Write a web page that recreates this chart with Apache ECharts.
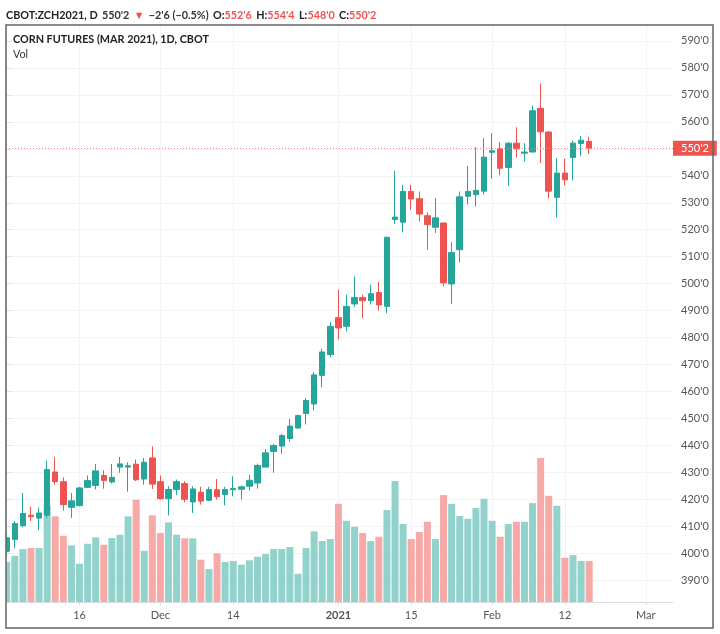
<!DOCTYPE html>
<html>
<head>
    <meta charset="utf-8">
    <title>Corn Futures (Mar 2021)</title>
    <script src="https://cdn.jsdelivr.net/npm/echarts@6/dist/echarts.min.js"></script>
    <style>
        html, body {margin: 0; padding: 0; background: #fff;}
    </style>
</head>
<body>
<div id="main" style="width: 720px;height:634px;"></div>
<script type="text/javascript">

    /* data, one entry per trading day ===================================== */
    var opens = [400.8, 405.2, 410.3, 414.2, 413.1, 414.2, 430.2, 426.6, 417.1, 417.7,
        424.5, 425.2, 428.9, 426.5, 432, 432, 433.1, 427.6, 435.4, 426.6,
        420.3, 423.7, 425.9, 419.1, 422.7, 419.7, 423.6, 421.8, 423.6, 423.8,
        424.9, 426.1, 432, 437.8, 439.8, 442.6, 446.5, 451.9, 455.4, 466,
        473.7, 487.4, 484.2, 492.5, 494.9, 493.7, 496.7, 491.6, 523.8, 522.8,
        534.2, 531.5, 525.2, 520.9, 522.5, 499.9, 512.6, 532.4, 533, 534.3,
        548.7, 550, 543.1, 552.1, 548.4, 548.8, 565, 556.2, 532, 541,
        546.8, 552, 552.75];
    var closes = [405.8, 411.1, 414.8, 413.6, 415, 431.1, 426.6, 418.1, 419.5, 424.3,
        427, 430.6, 427, 428.2, 433.2, 432.5, 427.3, 433.8, 425.7, 420.3,
        423.7, 426.6, 420.1, 423.9, 419.4, 423.7, 421, 423.7, 424.1, 424.7,
        427.1, 432.6, 437.3, 440, 443.7, 447.2, 451.1, 456.7, 466.2, 474.7,
        484.2, 483.6, 491.6, 494.9, 493.7, 496.3, 492.1, 517.2, 524.7, 534.2,
        531.4, 525.8, 521.9, 524.4, 500.3, 511.6, 532.2, 534.2, 534.6, 546.9,
        549.3, 542.8, 552.1, 550, 548.8, 564.1, 556.3, 534.3, 541, 538.5,
        552.1, 553.2, 550.25];
    var lows = [399.2, 402, 409.7, 412, 408.6, 413.2, 425.5, 415.9, 413.2, 417.5,
        424.3, 423.7, 424, 425.9, 429.9, 422.9, 426.8, 425.5, 423.9, 420,
        414.1, 421.7, 419, 415, 418.1, 419.4, 420, 417.8, 421.2, 420,
        423.3, 424, 432, 429.9, 437, 441.4, 446.3, 447.8, 453, 461.6,
        472.7, 479.3, 482.3, 491.4, 487.2, 492.3, 490, 489.1, 522.2, 519,
        527.4, 523.1, 512.6, 518.8, 499, 492.5, 507.9, 529.3, 528.6, 533,
        538.9, 540.1, 536.3, 546.8, 545.3, 548.8, 544.7, 531.6, 524.6, 536.5,
        538.3, 547.4, 548];
    var highs = [407, 412, 422.4, 417.3, 417, 434.4, 435.8, 428.2, 422.4, 424.6,
        428.9, 433.2, 430.8, 433.2, 435.8, 433.8, 434.8, 435.4, 439.7, 428.9,
        424.9, 427.4, 426.8, 424.9, 424.7, 424.7, 427.6, 424.7, 428.6, 425.2,
        429.2, 433.3, 438.7, 440.6, 444.3, 449.9, 451.5, 457.7, 467.2, 475.9,
        485.8, 497.8, 495.9, 502.7, 495.9, 499.6, 500.6, 517.4, 541.8, 536.7,
        536.7, 534.2, 526.5, 531.7, 522.7, 515.4, 534.2, 543.7, 550.6, 554,
        555.8, 552.5, 552.5, 558, 552.1, 566, 574.3, 556.5, 546.5, 546.3,
        553, 554.8, 554.5];
    // volume in the picture's relative units, no scale is shown
    var volumes = [40, 46.3, 53, 54, 54, 96.7, 85.7, 66.3, 56.7, 38.3,
        58.3, 64.7, 57.3, 64, 67.3, 85.7, 102.3, 51.3, 86.7, 69,
        79.7, 67.3, 63.7, 63.7, 42.3, 33, 48.7, 40, 41, 37.3,
        41.7, 45.3, 48, 53, 53, 55, 28.3, 54, 70.7, 61,
        63, 98.3, 81.3, 75.3, 69, 61, 65.3, 92, 121, 78,
        63, 70, 80.3, 63, 107, 98.3, 86, 83.3, 94, 103.3,
        81.3, 65.3, 78, 80.3, 80.3, 99, 144, 106.3, 96.3, 44.3,
        47, 41, 41];
    var xTickIndex = [9, 19, 28, 41, 50, 60, 69, 79];
    var xTickLabels = ['16', 'Dec', '14', '2021', '15', 'Feb', '12', 'Mar'];
    var yTicks = [390, 400, 410, 420, 430, 440, 450, 460, 470, 480, 490,
        500, 510, 520, 530, 540, 550, 560, 570, 580, 590];
    var lastPrice = 550.25;
    var lastPriceLabel = "550'2";

    var upColor = '#26a69a';
    var downColor = '#ef5350';
    var upVolColor = '#92d2cc';
    var downVolColor = '#f7a9a7';
    var gridColor = '#f1f3f6';
    var fontName = 'Lato, sans-serif';

    /* build the series data ================================================ */
    var candleData = [];
    var volumeData = [];
    for (var i = 0; i < opens.length; i++) {
        candleData.push([i, opens[i], closes[i], lows[i], highs[i]]);
        volumeData.push({
            value: [i, volumes[i]],
            itemStyle: {color: closes[i] >= opens[i] ? upVolColor : downVolColor}
        });
    }

    /* init ================================================================= */
    var myChart = echarts.init(document.getElementById('main'));

    myChart.setOption({
        animation: false,
        backgroundColor: '#fff',
        textStyle: {fontFamily: fontName},
        title: [
            {
                left: 6,
                top: 7,
                padding: 0,
                text: "{b|CBOT:ZCH2021, D} {n|550'2} {r|▼} {n|−2'6 (−0.5%)} {b|O:}{r|552'6} {b|H:}{r|554'4} {b|L:}{r|548'0} {b|C:}{r|550'2}",
                textStyle: {
                    rich: {
                        b: {fontFamily: fontName, fontSize: 10.8, fontWeight: 'bold', color: '#222'},
                        n: {fontFamily: fontName, fontSize: 10.8, color: '#333'},
                        r: {fontFamily: fontName, fontSize: 10.8, color: '#ef5350'}
                    }
                }
            },
            {
                left: 13,
                top: 34,
                padding: 0,
                text: 'CORN FUTURES (MAR 2021), 1D, CBOT',
                textStyle: {fontFamily: fontName, fontSize: 10.8, fontWeight: 'bold', color: '#222'}
            },
            {
                left: 13,
                top: 49,
                padding: 0,
                text: 'Vol',
                textStyle: {fontFamily: fontName, fontSize: 10.8, fontWeight: 'normal', color: '#333'}
            }
        ],
        grid: {left: 6, right: 47, top: 25, bottom: 32},
        xAxis: {
            type: 'value',
            min: -0.087,
            max: 82.36,
            axisLine: {onZero: false, lineStyle: {color: '#d9dce1'}},
            axisTick: {show: true, length: 3, customValues: xTickIndex, lineStyle: {color: '#d9dce1'}},
            splitLine: {show: true, lineStyle: {color: gridColor}},
            axisLabel: {
                customValues: xTickIndex,
                margin: 8,
                fontSize: 11,
                color: '#555',
                formatter: function (value) {
                    var label = xTickLabels[xTickIndex.indexOf(value)];
                    return label === '2021' ? '{y|' + label + '}' : label;
                },
                rich: {
                    y: {fontFamily: fontName, fontSize: 11, fontWeight: 'bold', color: '#555'}
                }
            }
        },
        yAxis: [
            {
                type: 'value',
                position: 'right',
                min: 382,
                max: 595.9,
                axisLine: {show: true, lineStyle: {color: '#d9dce1'}},
                axisTick: {show: true, length: 4, customValues: yTicks, lineStyle: {color: '#d9dce1'}},
                splitLine: {show: true, lineStyle: {color: gridColor}},
                axisLabel: {
                    customValues: yTicks,
                    margin: 8,
                    fontSize: 11,
                    color: '#555',
                    formatter: function (value) {
                        return value + "'0";
                    }
                }
            },
            {
                // volume scale: hidden, bars sit on the bottom of the pane
                type: 'value',
                min: 0,
                max: 577.5,
                show: false
            }
        ],
        series: [
            {
                name: 'Vol',
                type: 'bar',
                yAxisIndex: 1,
                barWidth: 7,
                clip: true,
                data: volumeData
            },
            {
                name: 'ZCH2021',
                type: 'candlestick',
                barWidth: 6,
                clip: true,
                encode: {x: 0, y: [1, 2, 3, 4]},
                itemStyle: {
                    color: upColor,
                    color0: downColor,
                    borderColor: upColor,
                    borderColor0: downColor,
                    borderWidth: 1
                },
                data: candleData,
                markLine: {
                    silent: true,
                    symbol: 'none',
                    lineStyle: {color: '#f58a88', type: [1, 2], width: 1},
                    label: {
                        position: 'end',
                        distance: 0,
                        formatter: lastPriceLabel,
                        color: '#fff',
                        fontSize: 11,
                        backgroundColor: downColor,
                        padding: [2, 8, 2, 8]
                    },
                    data: [{yAxis: lastPrice}]
                }
            }
        ],
        graphic: [
            {
                // blank margin left of the pane, the first candle is cut off by the frame
                type: 'rect',
                silent: true,
                z: 99,
                shape: {x: 0, y: 25, width: 6, height: 603},
                style: {fill: '#fff'}
            },
            {
                // outer frame of the widget
                type: 'rect',
                silent: true,
                z: 100,
                shape: {x: 6, y: 25, width: 707, height: 603},
                style: {fill: 'none', stroke: '#666', lineWidth: 1.5}
            }
        ]
    });

</script>
</body>
</html>
